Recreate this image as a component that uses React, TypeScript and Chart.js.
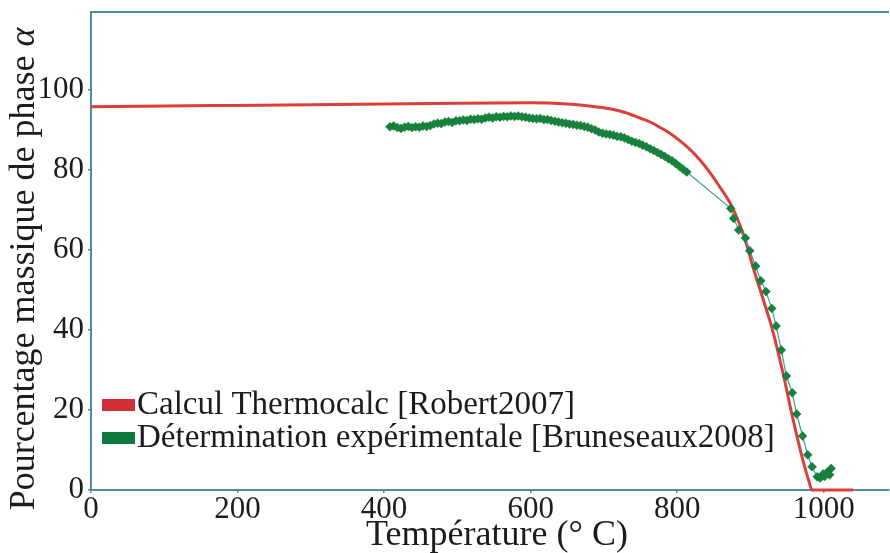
import React, { useEffect, useRef } from 'react';
import { Chart, registerables } from 'chart.js';

Chart.register(...registerables);

// Thermocalc calculation (red curve)
const calcTemps = [0, 100, 200, 300, 400, 500, 600, 650, 680, 708, 730, 749, 763, 776, 790, 803, 817, 831, 845, 858, 872, 885, 895, 903, 917, 930, 944, 957, 970, 980, 984, 1040];
const calcValues = [95.8, 96.0, 96.15, 96.3, 96.5, 96.7, 96.8, 96.5, 96.0, 95.3, 94.3, 93.0, 92.0, 90.7, 89.2, 87.4, 85.2, 82.5, 79.3, 75.8, 71.8, 66.5, 61.2, 56.0, 47.8, 40.0, 29.5, 18.5, 8.5, 2.0, 0, 0];

// Experimental determination (green markers)
const expTemps = [
  408, 413, 418, 423, 428, 433, 438, 443, 448, 453, 458, 463, 468, 473, 478, 483, 488, 493, 498, 503,
  508, 513, 518, 523, 528, 533, 538, 543, 548, 553, 558, 563, 568, 573, 578, 583, 588, 593, 598, 603,
  608, 613, 618, 623, 628, 633, 638, 643, 648, 653, 658, 663, 668, 673, 678, 683, 688, 693, 698, 703,
  708, 713, 718, 723, 728, 733, 738, 743, 748, 753, 758, 763, 768, 773, 778, 783, 788, 793, 798, 803,
  808, 813,
  873, 877, 884, 893, 899, 907, 914, 921, 929, 935, 942, 949, 957, 963, 971, 978, 984, 991, 995, 999, 1001, 1005, 1008, 1010
];
const expValues = [
  90.8, 91.0, 90.6, 90.4, 90.7, 90.9, 90.6, 90.8, 90.7, 91.0, 90.9, 91.1, 91.5, 91.7, 91.6, 92.0, 92.1, 91.9, 92.3, 92.3,
  92.5, 92.4, 92.7, 92.6, 92.8, 92.7, 93.0, 93.2, 93.0, 93.3, 93.2, 93.4, 93.3, 93.5, 93.4, 93.5, 93.3, 93.2, 93.0, 92.9,
  92.8, 92.9, 92.6, 92.6, 92.4, 92.2, 92.0, 91.8, 91.7, 91.5, 91.4, 91.2, 91.1, 90.9, 90.7, 90.3, 90.0, 89.5, 89.2, 89.0,
  88.9, 88.7, 88.4, 88.3, 88.0, 87.6, 87.2, 86.9, 86.6, 86.2, 85.8, 85.3, 84.9, 84.4, 83.9, 83.4, 82.8, 82.3, 81.6, 80.9,
  80.2, 79.5,
  70.4, 67.9, 65.0, 63.0, 59.8, 56.0, 52.3, 49.6, 45.4, 41.0, 35.0, 28.5, 24.3, 19.0, 13.5, 8.8, 5.8, 3.3, 3.0, 4.0, 3.4, 4.5, 3.8, 5.4
];

const xTicks = [0, 200, 400, 600, 800, 1000];
const yTicks = [0, 20, 40, 60, 80, 100];
const seriesLabels = ['Calcul Thermocalc [Robert2007]', 'Détermination expérimentale [Bruneseaux2008]'];
const xTitle = 'Température (° C)';
const yTitle = 'Pourcentage massique de phase ';
const yTitleSymbol = 'α';

const AXIS = '#4f8ca0';
const TEXT = '#1c1c1c';
const RED = '#dc3f3a';
const RED_LEG = '#d22f36';
const GREEN = '#17803d';
const GREEN_LEG = '#0d7a3c';
const TEAL = '#3a9f9c';
const SERIF = '"Liberation Serif", "Times New Roman", serif';

const overlayPlugin = {
  id: 'overlay',
  afterDraw(chart: any) {
    const { ctx, chartArea } = chart;
    ctx.save();
    // clear stray marks along the right edge of the plot area
    ctx.fillStyle = '#ffffff';
    ctx.fillRect(chartArea.right - 4, chartArea.top + 2, 10, chartArea.bottom - chartArea.top - 4);

    // top frame
    ctx.strokeStyle = AXIS;
    ctx.lineWidth = 2;
    ctx.beginPath();
    ctx.moveTo(chartArea.left - 1, chartArea.top);
    ctx.lineTo(chartArea.right, chartArea.top);
    ctx.stroke();

    // legend
    const legColors = [RED_LEG, GREEN_LEG];
    const boxTops = [399, 432];
    const baselines = [414, 447];
    ctx.font = `33px ${SERIF}`;
    ctx.textBaseline = 'alphabetic';
    ctx.textAlign = 'left';
    seriesLabels.forEach((lab, i) => {
      ctx.fillStyle = legColors[i];
      ctx.fillRect(102, boxTops[i], 33, 12);
      ctx.fillStyle = TEXT;
      ctx.fillText(lab, 137, baselines[i]);
    });

    // x title
    ctx.font = `36px ${SERIF}`;
    ctx.textAlign = 'center';
    ctx.fillText(xTitle, 497, 545);

    // y title (rotated)
    ctx.translate(34, 269);
    ctx.rotate(-Math.PI / 2);
    ctx.font = `36px ${SERIF}`;
    const w1 = ctx.measureText(yTitle).width;
    ctx.font = `italic 36px ${SERIF}`;
    const w2 = ctx.measureText(yTitleSymbol).width;
    const start = -(w1 + w2) / 2;
    ctx.textAlign = 'left';
    ctx.font = `36px ${SERIF}`;
    ctx.fillText(yTitle, start, 0);
    ctx.font = `italic 36px ${SERIF}`;
    ctx.fillText(yTitleSymbol, start + w1, 0);
    ctx.restore();
  },
};

export default function App() {
  const ref = useRef<HTMLCanvasElement | null>(null);
  useEffect(() => {
    document.body.style.margin = '0';
    const canvas = ref.current;
    if (!canvas) return;
    const chart = new Chart(canvas, {
      type: 'line',
      data: {
        datasets: [
          {
            label: seriesLabels[0],
            data: calcTemps.map((t, i) => ({ x: t, y: calcValues[i] })),
            borderColor: RED,
            borderWidth: 3,
            pointRadius: 0,
            cubicInterpolationMode: 'monotone',
            fill: false,
            clip: false,
            order: 2,
          } as any,
          {
            label: seriesLabels[1],
            data: expTemps.map((t, i) => ({ x: t, y: expValues[i] })),
            borderColor: TEAL,
            borderWidth: 1.2,
            pointStyle: 'rectRot',
            pointRadius: 4.5,
            pointBackgroundColor: GREEN,
            pointBorderColor: GREEN,
            pointBorderWidth: 0.5,
            tension: 0,
            fill: false,
            clip: false,
            order: 1,
          } as any,
        ],
      },
      options: {
        animation: false,
        responsive: false,
        devicePixelRatio: 1,
        layout: { autoPadding: false, padding: { top: 12, right: 1, left: 0, bottom: 0 } },
        plugins: {
          legend: { display: false },
          tooltip: { enabled: false },
        },
        scales: {
          x: {
            type: 'linear',
            min: 0,
            max: 1089,
            afterBuildTicks: (s: any) => {
              s.ticks = xTicks.map((v) => ({ value: v }));
            },
            afterFit: (s: any) => {
              s.height = 63;
              s.paddingLeft = 0;
              s.paddingRight = 0;
            },
            ticks: {
              color: TEXT,
              font: { family: SERIF, size: 31, lineHeight: 1 },
              padding: 1,
              maxRotation: 0,
              autoSkip: false,
              callback: (v: any) => String(v),
            },
            grid: { drawOnChartArea: false, drawTicks: true, tickLength: 3, color: AXIS, lineWidth: 1.5 },
            border: { color: AXIS, width: 2 },
          },
          y: {
            type: 'linear',
            min: 0,
            max: 119.5,
            afterBuildTicks: (s: any) => {
              s.ticks = yTicks.map((v) => ({ value: v }));
            },
            afterFit: (s: any) => {
              s.width = 91;
              s.paddingTop = 0;
              s.paddingBottom = 0;
            },
            ticks: {
              color: TEXT,
              font: { family: SERIF, size: 31, lineHeight: 1 },
              padding: 4,
              callback: (v: any) => String(v),
            },
            grid: { drawOnChartArea: false, drawTicks: true, tickLength: 3, color: AXIS, lineWidth: 1.5 },
            border: { color: AXIS, width: 2 },
          },
        },
      } as any,
      plugins: [overlayPlugin],
    });
    return () => chart.destroy();
  }, []);
  return (
    <div style={{ position: 'relative', width: 890, height: 553, background: '#fff' }}>
      <canvas ref={ref} width={890} height={553} style={{ display: 'block' }} />
    </div>
  );
}
